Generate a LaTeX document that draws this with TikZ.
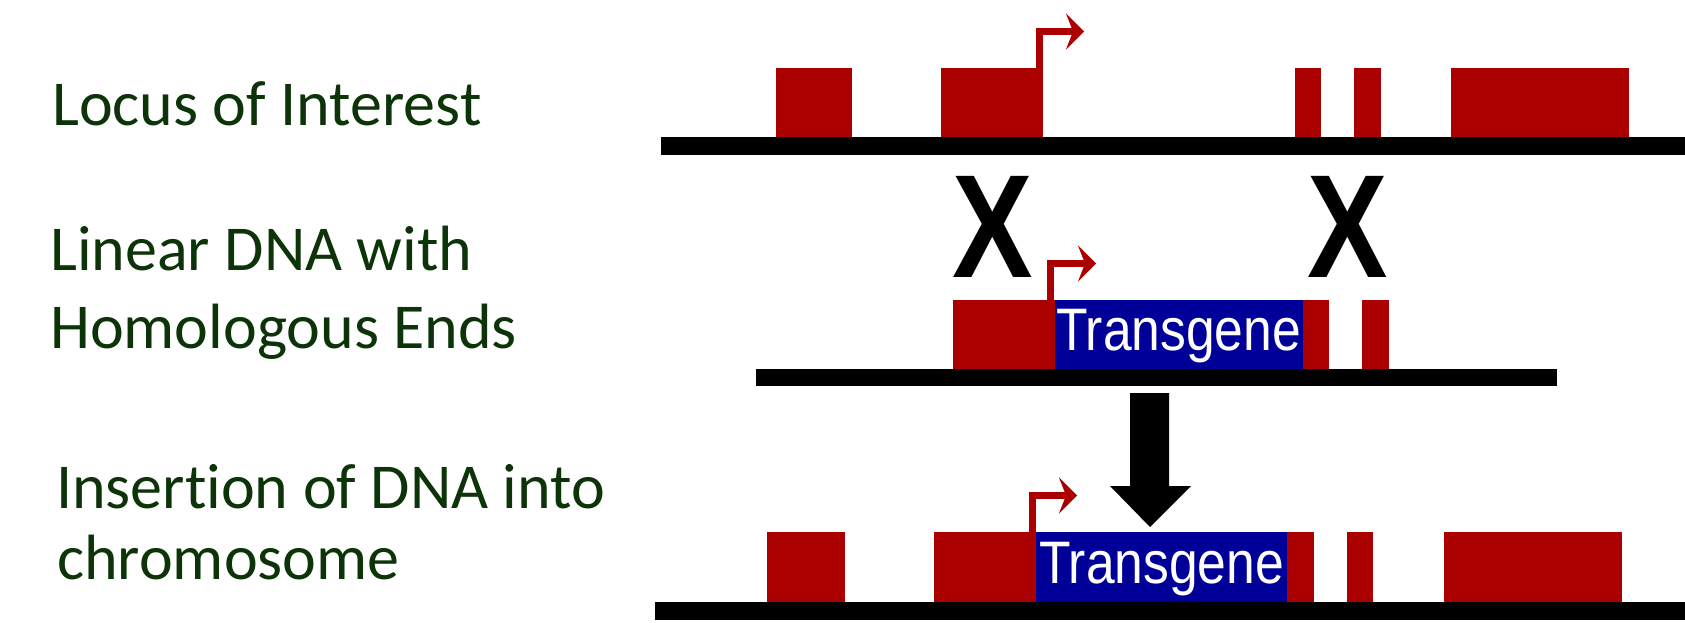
\documentclass[tikz,border=0pt]{standalone}
\usepackage{fontspec}
\setmainfont{Carlito}[Ligatures=NoCommon]
\newfontfamily\arialfont{Liberation Sans}
\usetikzlibrary{arrows.meta}
\definecolor{exonred}{RGB}{170,0,0}
\definecolor{tgblue}{RGB}{0,0,153}
\definecolor{labelgreen}{RGB}{12,52,8}

\begin{document}
\begin{tikzpicture}[x=1pt,y=-1pt,
  rowlabel/.style={anchor=base west, inner sep=0pt, text=labelgreen,
    font=\fontsize{64}{64}\selectfont},
  chrom/.style={fill=black},
  exon/.style={fill=exonred},
  tgbox/.style={fill=tgblue},
  tgtext/.style={anchor=base west, inner sep=0pt, text=white,
    font=\arialfont\fontsize{60}{60}\selectfont},
  cross/.style={anchor=base, inner sep=0pt,
    font=\arialfont\bfseries\fontsize{147}{147}\selectfont},
  promoter/.style={draw=exonred, line width=7pt, line join=miter,
    -{Stealth[length=18pt,width=36pt,inset=7pt]}}
]
% canvas
\fill[white] (0,0) rectangle (1685,622);
\useasboundingbox (0,0) rectangle (1685,622);

% row labels
\node[rowlabel] (locus)  at (52,125) {Locus of Interest};
\node[rowlabel] (linear) at (50,270) {Linear DNA with};
\node[rowlabel] (homol)  at (50,348) {Homologous Ends};
\node[rowlabel] (insert) at (56,508) {Insertion of DNA into};
\node[rowlabel] (chromo) at (57,579) {chromosome};

% ---- locus of interest ----
\fill[exon] (776,68) rectangle (852,138);
\fill[exon] (941,68) rectangle (1043,138);
\fill[exon] (1295,68) rectangle (1321,138);
\fill[exon] (1354,68) rectangle (1381,138);
\fill[exon] (1451,68) rectangle (1629,138);
\fill[chrom] (661,137) rectangle (1685,155);
\coordinate (p1) at (1039,68);
\coordinate (t1) at (1084,31.5);
\draw[promoter] (p1) |- (t1);

% crossover marks
\node[cross] (xleft)  at (992.5,277) {\scalebox{0.82}[1]{X}};
\node[cross] (xright) at (1347.5,277) {\scalebox{0.82}[1]{X}};

% ---- linear DNA with homologous ends ----
\fill[exon] (953,300) rectangle (1055,370);
\fill[tgbox] (1055,300) rectangle (1303,370);
\fill[exon] (1303,300) rectangle (1329,370);
\fill[exon] (1362,300) rectangle (1389,370);
\fill[chrom] (756,369) rectangle (1557,386);
\node[tgtext] (tgmid) at (1056,350) {\scalebox{0.86}[1]{Transgene}};
\coordinate (p2) at (1050.5,300);
\coordinate (t2) at (1096,263.5);
\draw[promoter] (p2) |- (t2);

% insertion arrow
\fill[black] (1130,393) -- (1169,393) -- (1169,486) -- (1191,486)
  -- (1150,527) -- (1110,486) -- (1130,486) -- cycle;

% ---- result: transgene inserted into chromosome ----
\fill[exon] (767,532) rectangle (845,603);
\fill[exon] (934,532) rectangle (1036,603);
\fill[tgbox] (1036,532) rectangle (1287,603);
\fill[exon] (1287,532) rectangle (1314,603);
\fill[exon] (1347,532) rectangle (1373,603);
\fill[exon] (1444,532) rectangle (1622,603);
\fill[chrom] (655,602) rectangle (1685,620);
\node[tgtext] (tgbot) at (1039,583) {\scalebox{0.86}[1]{Transgene}};
\coordinate (p3) at (1032,532);
\coordinate (t3) at (1077,495.5);
\draw[promoter] (p3) |- (t3);
\end{tikzpicture}
\end{document}
